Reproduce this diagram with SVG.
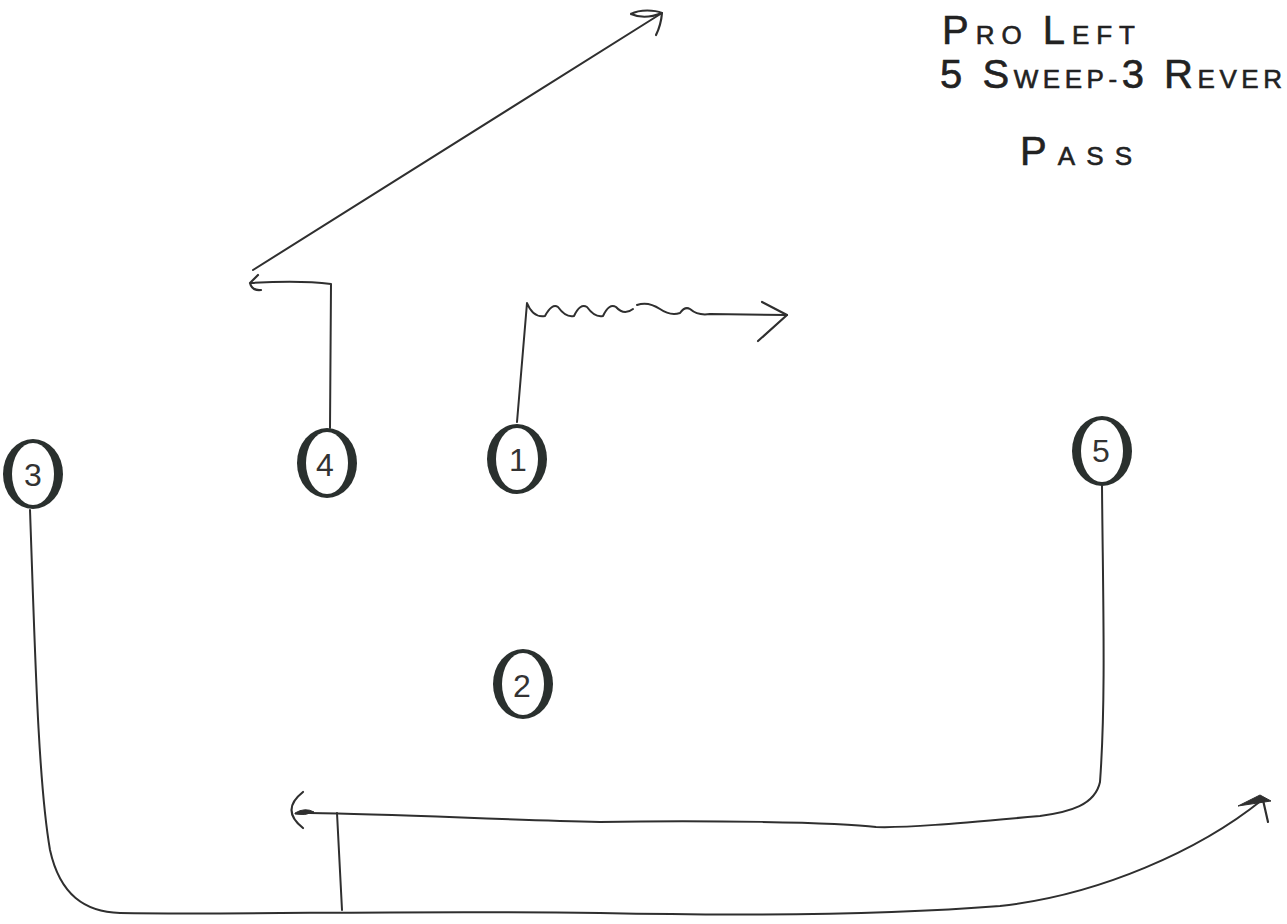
<svg xmlns="http://www.w3.org/2000/svg" width="1287" height="924" viewBox="0 0 1287 924">
<style>
.bg{fill:#ffffff}
.route{fill:none;stroke:#2f2f2f;stroke-width:2;stroke-linecap:round;stroke-linejoin:round}
.head{fill:none;stroke:#2f2f2f;stroke-width:2.2;stroke-linecap:round;stroke-linejoin:round}
.blob{fill:#2f2f2f;stroke:#2f2f2f;stroke-width:1}
.ring{fill:#2a302e}
.hole{fill:#ffffff}
.num{font-family:"Liberation Sans",Arial,sans-serif;font-size:32px;fill:#333;font-weight:normal}
.title{font-family:"Liberation Sans",Arial,sans-serif;fill:#222;stroke:#222;stroke-width:0.6}
.big{font-size:40px}
.small{font-size:26px}
</style>
<defs>
<g id="player">
<ellipse class="ring" cx="0" cy="0" rx="30" ry="35"/>
<ellipse class="hole" cx="0" cy="0" rx="21" ry="31"/>
</g>
</defs>
<rect class="bg" x="0" y="0" width="1287" height="924"/>

<g id="title">
<text class="title" x="942" y="44" textLength="193" lengthAdjust="spacing"><tspan class="big">P</tspan><tspan class="small">RO </tspan><tspan class="big">L</tspan><tspan class="small">EFT</tspan></text>
<text class="title" x="940" y="88" textLength="342" lengthAdjust="spacing"><tspan class="big">5 S</tspan><tspan class="small">WEEP-</tspan><tspan class="big">3 R</tspan><tspan class="small">EVER</tspan></text>
<text class="title" x="1020" y="165" textLength="112" lengthAdjust="spacing"><tspan class="big" font-size="46px">P</tspan><tspan class="small">ASS</tspan></text>
</g>

<g id="connectors">
<!-- player 4 route -->
<path class="route" d="M330,428 L331,284 Q300,280 251,283"/>
<path class="head" d="M258,275 L250,283 Q252,291 261,290"/>
<path class="route" d="M253,270 Q455,142 662,13"/>
<path class="head" d="M631,14 C640,9 655,10 662,13 C652,17 640,18 631,14 M662,13 Q661,25 656,35"/>
<!-- player 1 route -->
<path class="route" d="M517,422 L527,303 Q533,318 545,316 Q552,303 558,307 Q566,318 574,316 Q580,303 587,307 Q595,318 603,316 Q609,303 616,307 Q624,316 633,309"/>
<path class="route" d="M637,305 Q648,301 660,309 Q670,316 680,313 Q685,306 690,309 Q698,316 710,314 L787,315"/>
<path class="head" d="M762,302 L787,315 L758,341"/>
<!-- player 5 route -->
<path class="route" d="M1102,486 C1103,600 1106,700 1100,782 C1095,805 1070,812 1040,816 C950,824 905,828 876,827 C840,822 700,820 600,822 C500,820 400,814 310,813"/>
<path class="blob" d="M295,813 Q305,807 314,812 Q305,816 295,814 Z"/>
<path class="head" d="M303,792 Q280,810 303,828"/>
<path class="route" d="M337,813 L342,910"/>
<!-- player 3 route -->
<path class="route" d="M30,510 C35,650 38,780 50,850 C60,895 85,912 120,913 C250,915 400,910 600,913 C750,916 900,914 1000,906 C1100,895 1200,850 1262,800"/>
<path class="blob" d="M1238,806 L1260,795 L1271,801 Z"/>
<path class="head" d="M1263,800 L1268,822"/>
</g>

<g id="node-3">
<use href="#player" x="33" y="474"/>
<text class="num" x="33" y="486" text-anchor="middle">3</text>
</g>
<g id="node-4">
<use href="#player" x="327" y="463"/>
<text class="num" x="325" y="476" text-anchor="middle">4</text>
</g>
<g id="node-1">
<use href="#player" x="517" y="459"/>
<text class="num" x="518" y="471" text-anchor="middle">1</text>
</g>
<g id="node-5">
<use href="#player" x="1102" y="451"/>
<text class="num" x="1101" y="462" text-anchor="middle">5</text>
</g>
<g id="node-2">
<use href="#player" x="523" y="684"/>
<text class="num" x="522" y="697" text-anchor="middle">2</text>
</g>
</svg>
